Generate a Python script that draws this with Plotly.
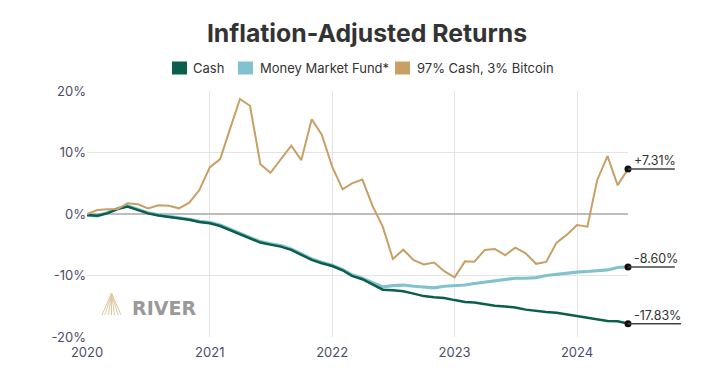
import plotly.graph_objects as go
import pandas as pd

# ---------------- data ----------------
start_month = "2020-01-01"
n_months = 54
dates = pd.date_range(start_month, periods=n_months, freq="MS")

series_names = ["Cash", "Money Market Fund*", "97% Cash, 3% Bitcoin"]

cash = [
    -0.16, -0.27, 0.10, 0.80, 1.20, 0.65, 0.10, -0.25, -0.50, -0.68, -0.92, -1.30,
    -1.50, -1.95, -2.60, -3.30, -4.06, -4.65, -4.98, -5.30, -5.84, -6.65, -7.47, -8.00,
    -8.45, -9.15, -10.06, -10.60, -11.40, -12.30, -12.40, -12.55, -12.95, -13.35, -13.55, -13.65,
    -14.00, -14.30, -14.40, -14.70, -14.90, -15.05, -15.20, -15.55, -15.80, -15.95, -16.05, -16.30,
    -16.55, -16.85, -17.15, -17.40, -17.45, -17.83,
]

mmf = [
    -0.20, -0.30, 0.20, 0.90, 1.30, 0.75, 0.20, -0.15, -0.40, -0.55, -0.85, -1.20,
    -1.35, -1.80, -2.45, -3.15, -3.90, -4.50, -4.85, -5.15, -5.70, -6.50, -7.30, -7.85,
    -8.35, -9.00, -9.90, -10.45, -11.20, -11.85, -11.65, -11.55, -11.75, -11.90, -12.00, -11.75,
    -11.65, -11.55, -11.30, -11.10, -10.95, -10.65, -10.45, -10.45, -10.35, -10.00, -9.80, -9.55,
    -9.45, -9.35, -9.25, -9.10, -8.70, -8.60,
]

btc = [
    0.00, 0.65, 0.76, 0.80, 1.73, 1.57, 0.92, 1.41, 1.35, 0.92, 1.84, 3.90,
    7.58, 8.93, 13.60, 18.70, 17.60, 8.10, 6.70, 9.00, 11.10, 8.77, 15.40, 12.90,
    7.70, 4.00, 4.98, 5.60, 1.35, -2.10, -7.30, -5.80, -7.50, -8.20, -7.90, -9.30,
    -10.30, -7.70, -7.75, -5.84, -5.68, -6.70, -5.46, -6.40, -8.10, -7.80, -4.65, -3.40,
    -1.80, -2.06, 5.50, 9.40, 4.70, 7.31,
]

end_labels = ["-17.83%", "-8.60%", "+7.31%"]

y_tickvals = [-20, -10, 0, 10, 20]
y_ticktext = ["-20%", "-10%", "0%", "10%", "20%"]
x_tickvals = ["2020-01-01", "2021-01-01", "2022-01-01", "2023-01-01", "2024-01-01"]
x_ticktext = ["2020", "2021", "2022", "2023", "2024"]

# ---------------- style ----------------
W, H = 719, 377
L, R, T, B = 87, 91, 91, 40
PW, PH = W - L - R, H - T - B
Y_MIN, Y_MAX = -20, 20

colors = ["#0b5e4b", "#82c2cf", "#c8a066"]
widths = [2.5, 3.2, 2.0]
font_family = "Inter, 'Noto Sans', sans-serif"
tick_color = "#4a4e69"
text_color = "#333333"


def px2x(px):
    return (px - L) / PW


def px2y(py):
    return (H - B - py) / PH


def val2y(v):
    return (v - Y_MIN) / (Y_MAX - Y_MIN)


values = [cash, mmf, btc]
draw_order = [1, 0, 2]

fig = go.Figure()
for i in draw_order:
    fig.add_trace(go.Scatter(
        x=dates, y=values[i], mode="lines", name=series_names[i],
        line=dict(color=colors[i], width=widths[i]),
        showlegend=False, hoverinfo="skip",
    ))

# end dots
fig.add_trace(go.Scatter(
    x=[dates[-1]] * 3, y=[v[-1] for v in values], mode="markers",
    marker=dict(color="#111111", size=7), cliponaxis=False,
    showlegend=False, hoverinfo="skip",
))

shapes = []
annotations = []

# end labels with underline
for i in range(3):
    v = values[i][-1]
    lab = end_labels[i]
    x_end = 637 + 6.3 * len(lab)
    shapes.append(dict(
        type="line", xref="paper", yref="paper",
        x0=1.0, x1=px2x(x_end), y0=val2y(v), y1=val2y(v),
        line=dict(color="#444444", width=1.5),
    ))
    annotations.append(dict(
        xref="paper", yref="y", x=px2x(632), y=v,
        xanchor="left", yanchor="bottom", text=lab, showarrow=False,
        font=dict(size=12.5, color=text_color, family=font_family),
        yshift=-1,
    ))

# manual legend
legend_swatch_x = [172, 238, 395]
legend_text_x = [191, 258, 415]
legend_y = 68
for i in range(3):
    shapes.append(dict(
        type="rect", xref="paper", yref="paper",
        x0=px2x(legend_swatch_x[i]), x1=px2x(legend_swatch_x[i] + 15),
        y0=px2y(legend_y + 6.5), y1=px2y(legend_y - 6.5),
        fillcolor=colors[i], line=dict(width=0),
    ))
    annotations.append(dict(
        xref="paper", yref="paper", x=px2x(legend_text_x[i]), y=px2y(legend_y),
        xanchor="left", yanchor="middle", text=series_names[i], showarrow=False,
        font=dict(size=13, color=text_color, family=font_family),
    ))

# RIVER watermark
annotations.append(dict(
    xref="paper", yref="paper", x=px2x(129.5), y=px2y(307.5),
    xanchor="left", yanchor="middle", text="RIVER", showarrow=False,
    font=dict(size=19, color="#999999", family="'DejaVu Sans', sans-serif", weight=700),
))
apex = (111.5, 293)
for bx in [102, 105, 108.5, 111.5, 114.5, 118, 121]:
    shapes.append(dict(
        type="line", xref="paper", yref="paper",
        x0=px2x(apex[0]), y0=px2y(apex[1]), x1=px2x(bx), y1=px2y(315),
        line=dict(color="#e0c79f", width=1),
    ))

fig.update_layout(
    width=W, height=H, autosize=False,
    margin=dict(l=L, r=R, t=T, b=B),
    paper_bgcolor="white", plot_bgcolor="white",
    font=dict(family=font_family, color=text_color),
    title=dict(
        text="Inflation-Adjusted Returns", x=367 / W, xref="container", xanchor="center",
        y=1 - 33 / H, yref="container", yanchor="middle",
        font=dict(size=24.8, color="#333333", family=font_family, weight=700),
    ),
    xaxis=dict(
        type="date", range=[dates[0], dates[-1]],
        tickvals=x_tickvals, ticktext=x_ticktext,
        showgrid=True, gridcolor="#e4e4e4", gridwidth=1,
        showline=False, zeroline=False, ticks="",
        ticklabelstandoff=6,
        tickfont=dict(size=13, color=tick_color, family=font_family),
        fixedrange=True,
    ),
    yaxis=dict(
        range=[Y_MIN, Y_MAX], tickvals=y_tickvals, ticktext=y_ticktext,
        showgrid=True, gridcolor="#e4e4e4", gridwidth=1,
        zeroline=True, zerolinecolor="#bdbdbd", zerolinewidth=2,
        showline=False, ticks="",
        tickfont=dict(size=13, color=tick_color, family=font_family),
        fixedrange=True,
    ),
    shapes=shapes,
    annotations=annotations,
    showlegend=False,
)

fig.write_html(
    "out.html",
    config={"displayModeBar": False},
    post_script="document.body.style.margin='0';document.body.style.overflow='hidden';",
)
